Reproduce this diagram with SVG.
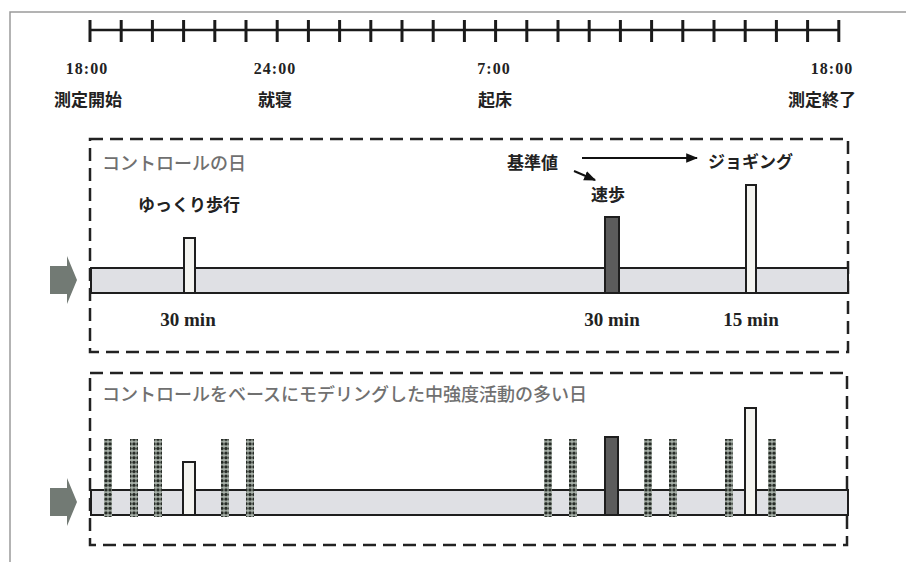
<svg xmlns="http://www.w3.org/2000/svg" width="906" height="562" viewBox="0 0 906 562">
<style>
.frame{fill:none;stroke:#9a9a9a;stroke-width:1.5}
.axis{stroke:#1a1a1a;stroke-width:2.5;fill:none}
.tick{stroke:#1a1a1a;stroke-width:3}
.time{font-family:"Liberation Serif",serif;font-weight:bold;font-size:16px;fill:#222;text-anchor:middle;letter-spacing:1px}
.min{font-family:"Liberation Serif",serif;font-weight:bold;font-size:19px;fill:#222;text-anchor:middle}
.jp{font-family:"Noto Sans CJK JP",sans-serif;font-weight:bold;font-size:17px;fill:#222}
.jpc{text-anchor:middle}
.lbl{font-family:"Noto Sans CJK JP",sans-serif;font-weight:500;font-size:18px;fill:#707070}
.box{fill:none;stroke:#222;stroke-width:2.5;stroke-dasharray:13 7}
.band{fill:#dfe0e4;stroke:#1e1e1e;stroke-width:2}
.white{fill:#f4f4f0;stroke:#1e1e1e;stroke-width:2}
.dark{fill:#5c5c5c;stroke:#1e1e1e;stroke-width:2}
.garrow{fill:#727a74}
.dots{fill:url(#dotpat)}
.conn{stroke:#111;stroke-width:2;fill:none}
</style>
<defs>
<pattern id="dotpat" x="0" y="0" width="8" height="4.6" patternUnits="userSpaceOnUse">
<rect width="8" height="4.6" fill="#a9b2aa"/>
<circle cx="2" cy="2.3" r="1.7" fill="#262b26"/>
<circle cx="6" cy="2.3" r="1.7" fill="#262b26"/>
</pattern>
<marker id="ah" viewBox="0 0 10 10" refX="9" refY="5" markerWidth="6" markerHeight="6" orient="auto">
<path d="M0,1 L10,5 L0,9 z" fill="#111"/>
</marker>
</defs>

<path class="frame" d="M10,562 L10,12 L906,12"/>

<g id="timeline">
<line class="axis" x1="90" y1="30" x2="839" y2="30"/>
<g id="ticks">
<line class="tick" x1="90" y1="20" x2="90" y2="42"/>
<line class="tick" x1="121.2" y1="20" x2="121.2" y2="42"/>
<line class="tick" x1="152.4" y1="20" x2="152.4" y2="42"/>
<line class="tick" x1="183.6" y1="20" x2="183.6" y2="42"/>
<line class="tick" x1="214.8" y1="20" x2="214.8" y2="42"/>
<line class="tick" x1="246" y1="20" x2="246" y2="42"/>
<line class="tick" x1="277.2" y1="20" x2="277.2" y2="42"/>
<line class="tick" x1="308.4" y1="20" x2="308.4" y2="42"/>
<line class="tick" x1="339.6" y1="20" x2="339.6" y2="42"/>
<line class="tick" x1="370.8" y1="20" x2="370.8" y2="42"/>
<line class="tick" x1="402" y1="20" x2="402" y2="42"/>
<line class="tick" x1="433.2" y1="20" x2="433.2" y2="42"/>
<line class="tick" x1="464.4" y1="20" x2="464.4" y2="42"/>
<line class="tick" x1="495.6" y1="20" x2="495.6" y2="42"/>
<line class="tick" x1="526.8" y1="20" x2="526.8" y2="42"/>
<line class="tick" x1="558" y1="20" x2="558" y2="42"/>
<line class="tick" x1="589.2" y1="20" x2="589.2" y2="42"/>
<line class="tick" x1="620.4" y1="20" x2="620.4" y2="42"/>
<line class="tick" x1="651.6" y1="20" x2="651.6" y2="42"/>
<line class="tick" x1="682.8" y1="20" x2="682.8" y2="42"/>
<line class="tick" x1="714" y1="20" x2="714" y2="42"/>
<line class="tick" x1="745.2" y1="20" x2="745.2" y2="42"/>
<line class="tick" x1="776.4" y1="20" x2="776.4" y2="42"/>
<line class="tick" x1="807.6" y1="20" x2="807.6" y2="42"/>
<line class="tick" x1="838.8" y1="20" x2="838.8" y2="42"/>
</g>
<text class="time" x="87" y="74">18:00</text>
<text class="time" x="275" y="74">24:00</text>
<text class="time" x="494" y="74">7:00</text>
<text class="time" x="832" y="74">18:00</text>
<text class="jp jpc" x="88" y="106">測定開始</text>
<text class="jp jpc" x="275" y="106">就寝</text>
<text class="jp jpc" x="495" y="106">起床</text>
<text class="jp jpc" x="822" y="106">測定終了</text>
</g>

<g id="control-day">
<rect class="box" x="90" y="139" width="758" height="213"/>
<text class="lbl" x="102" y="170">コントロールの日</text>
<polygon class="garrow" points="50,266 67,266 67,256 77,280 67,304 67,294 50,294"/>
<rect class="band" x="91" y="268" width="757" height="25"/>
<rect class="white" x="184" y="238" width="11" height="55"/>
<rect class="dark" x="605" y="217" width="14" height="76"/>
<rect class="white" x="746" y="185" width="10" height="108"/>
<text class="jp" x="138" y="211">ゆっくり歩行</text>
<text class="jp" x="507" y="169">基準値</text>
<text class="jp jpc" x="608" y="201">速歩</text>
<text class="jp" x="708" y="168">ジョギング</text>
<text class="min" x="188" y="326">30 min</text>
<text class="min" x="612" y="326">30 min</text>
<text class="min" x="751" y="326">15 min</text>
</g>

<g id="connectors">
<line class="conn" x1="582" y1="158" x2="697" y2="158" marker-end="url(#ah)"/>
<line class="conn" x1="574" y1="171" x2="595" y2="180" marker-end="url(#ah)"/>
</g>

<g id="modeled-day">
<rect class="box" x="90" y="373" width="757" height="172"/>
<text class="lbl" x="102" y="401">コントロールをベースにモデリングした中強度活動の多い日</text>
<polygon class="garrow" points="50,488 67,488 67,478 77,502 67,526 67,516 50,516"/>
<rect class="band" x="91" y="490" width="757" height="25"/>
<rect class="white" x="183" y="462" width="12" height="53"/>
<rect class="dark" x="605" y="437" width="13" height="78"/>
<rect class="white" x="745" y="408" width="11" height="107"/>
<rect class="dots" x="104" y="439" width="8" height="78"/>
<rect class="dots" x="130" y="439" width="8" height="78"/>
<rect class="dots" x="154" y="439" width="8" height="78"/>
<rect class="dots" x="221" y="439" width="8" height="78"/>
<rect class="dots" x="246" y="439" width="8" height="78"/>
<rect class="dots" x="544" y="439" width="8" height="78"/>
<rect class="dots" x="569" y="439" width="8" height="78"/>
<rect class="dots" x="644" y="439" width="8" height="78"/>
<rect class="dots" x="669" y="439" width="8" height="78"/>
<rect class="dots" x="725" y="439" width="8" height="78"/>
<rect class="dots" x="768" y="439" width="8" height="78"/>
</g>
</svg>
